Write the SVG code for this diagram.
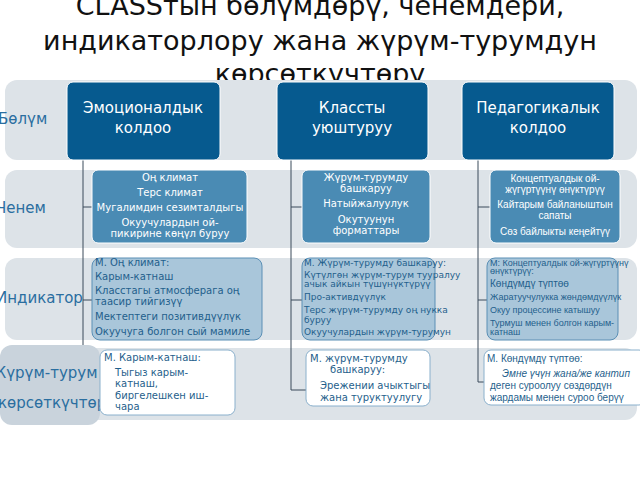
<svg xmlns="http://www.w3.org/2000/svg" width="640" height="480" viewBox="0 0 640 480">
<style>
.band{fill:#dde3e8}
.t1{fill:#065a8f;stroke:#fff;stroke-width:1}
.t2{fill:#4a8bb4;stroke:#fff;stroke-width:1}
.t3{fill:#a9c6da;stroke:#5a8fb5;stroke-width:1}
.t4{fill:#fff;stroke:#8ab0cc;stroke-width:1}
text{font-family:"DejaVu Sans","Noto Sans",sans-serif}
.n{font-family:"Liberation Sans","Noto Sans",sans-serif}
.h{fill:#fff;font-size:15px;text-anchor:middle}
.m{fill:#fff;font-size:10px;text-anchor:middle}
.s{fill:#1f5f8c;font-size:9px}
.w{fill:#1f5f8c;font-size:10px}
.lab{fill:#2a6ea0;font-size:15px}
.ln{stroke:#3a4a5a;stroke-width:1;fill:none}
</style>
<rect width="640" height="480" fill="#fff"/>
<text x="320" y="15" font-size="27" text-anchor="middle" fill="#111">CLASSтын бөлүмдөрү, ченемдери,</text>
<text x="320" y="50" font-size="27" text-anchor="middle" fill="#111">индикаторлору жана жүрүм-турумдун</text>
<text x="320" y="83" font-size="27" text-anchor="middle" fill="#111">көрсөткүчтөрү</text>
<rect class="band" x="5" y="80" width="632" height="80" rx="12"/>
<rect class="band" x="5" y="170" width="632" height="78" rx="12"/>
<rect class="band" x="5" y="258" width="632" height="82" rx="12"/>
<rect class="band" x="5" y="348" width="632" height="72" rx="12"/>
<rect x="0" y="345" width="100" height="80" rx="12" fill="#c9d3dc"/>
<text class="lab" x="-2" y="124">Бөлүм</text>
<text class="lab" x="-4" y="213">Ченем</text>
<text class="lab" x="-4" y="303">Индикатор</text>
<text class="lab" x="-10" y="378">Жүрүм-турум</text>
<text class="lab" x="-2" y="408">көрсөткүчтөрү</text>
<g id="connectors">
<path class="ln" d="M83 160V345M83 207H92M83 300H92"/>
<path class="ln" d="M291 160V390H306M291 207H302M291 300H302"/>
<path class="ln" d="M478 160V382H486M478 207H490M478 300H487"/>
</g>
<g id="n1"><rect class="t1" x="67" y="82" width="153" height="78" rx="6"/><text class="h" x="143" y="113">Эмоционалдык</text><text class="h" x="143" y="133">колдоо</text></g>
<g id="n2"><rect class="t1" x="277" y="82" width="151" height="78" rx="6"/><text class="h" x="352" y="113">Классты</text><text class="h" x="352" y="133">уюштуруу</text></g>
<g id="n3"><rect class="t1" x="462" y="82" width="152" height="78" rx="6"/><text class="h" x="538" y="113">Педагогикалык</text><text class="h" x="538" y="133">колдоо</text></g>
<g id="c1"><rect class="t2" x="92" y="170" width="155" height="73" rx="6"/>
<text class="m" x="170" y="181">Оң климат</text><text class="m" x="170" y="196">Терс климат</text><text class="m" x="170" y="211">Мугалимдин сезимталдыгы</text><text class="m" x="170" y="226">Окуучулардын ой-</text><text class="m" x="170" y="237">пикирине көңүл буруу</text></g>
<g id="c2"><rect class="t2" x="302" y="170" width="128" height="73" rx="6"/>
<text class="m" x="366" y="181">Жүрүм-турумду</text><text class="m" x="366" y="192">башкаруу</text><text class="m" x="366" y="207">Натыйжалуулук</text><text class="m" x="366" y="223">Окутуунун</text><text class="m" x="366" y="234">форматтары</text></g>
<g id="c3" class="n"><rect class="t2" x="490" y="170" width="130" height="73" rx="6"/>
<text class="m n" x="555" y="182">Концептуалдык ой-</text><text class="m n" x="555" y="193">жүгүртүүнү өнүктүрүү</text><text class="m n" x="555" y="208">Кайтарым байланыштын</text><text class="m n" x="555" y="219">сапаты</text><text class="m n" x="555" y="235">Сөз байлыкты кеңейтүү</text></g>
<g id="i1"><rect class="t3" x="92" y="258" width="170" height="82" rx="8"/>
<text class="w" x="95" y="266">М. Оң климат:</text><text class="w" x="95" y="280">Карым-катнаш</text><text class="w" x="95" y="294">Класстагы атмосферага оң</text><text class="w" x="95" y="305">таасир тийгизүү</text><text class="w" x="95" y="320">Мектептеги позитивдүүлүк</text><text class="w" x="95" y="335">Окуучуга болгон сый мамиле</text></g>
<g id="i2"><rect class="t3" x="302" y="258" width="133" height="82" rx="8"/>
<text class="s" x="304" y="266">М. Жүрүм-турумду башкаруу:</text><text class="s" x="304" y="278" font-size="7">Күтүлгөн жүрүм-турум тууралуу</text><text class="s" x="304" y="287" font-size="7">ачык айкын түшүнүктүрүү</text><text class="s" x="304" y="300">Про-активдүүлүк</text><text class="s" x="304" y="313">Терс жүрүм-турумду оң нукка</text><text class="s" x="304" y="323">буруу</text><text class="s" x="304" y="335">Окуучулардын жүрүм-турумун</text></g>
<g id="i3"><rect class="t3" x="487" y="258" width="131" height="82" rx="8"/>
<text class="s n" x="490" y="266" font-size="8">М: Концептуалдык ой-жүгүртүүнү</text><text class="s n" x="490" y="274" font-size="8">өнүктүрүү:</text><text class="w n" x="490" y="287">Көндүмдү түптөө</text><text class="s n" x="490" y="300" font-size="8">Жаратуучулукка жөндөмдүүлүк</text><text class="s n" x="490" y="313" font-size="8">Окуу процессине катышуу</text><text class="s n" x="490" y="326" font-size="8">Турмуш менен болгон карым-</text><text class="s n" x="490" y="335" font-size="8">катнаш</text></g>
<g id="b1"><rect class="t4" x="100" y="350" width="135" height="65" rx="7"/>
<text class="w" x="104" y="361">М. Карым-катнаш:</text><text class="w" x="115" y="376">Тыгыз карым-</text><text class="w" x="115" y="387">катнаш,</text><text class="w" x="115" y="399">биргелешкен иш-</text><text class="w" x="115" y="410">чара</text></g>
<g id="b2"><rect class="t4" x="306" y="350" width="124" height="56" rx="7"/>
<text class="w" x="310" y="362">М. жүрүм-турумду</text><text class="w" x="330" y="373">башкаруу:</text><text class="w" x="320" y="389">Эрежении ачыктыгы</text><text class="w" x="320" y="401">жана туруктуулугу</text></g>
<g id="b3"><rect class="t4" x="484" y="350" width="162" height="55" rx="7"/>
<text class="w n" x="487" y="362">М. Көндүмдү түптөө:</text><text class="w n" x="502" y="377" font-style="italic">Эмне үчүн жана/же  кантип</text><text class="w n" x="490" y="389">деген суроолуу сөздөрдүн</text><text class="w n" x="490" y="401">жардамы менен суроо берүү</text></g>
</svg>
